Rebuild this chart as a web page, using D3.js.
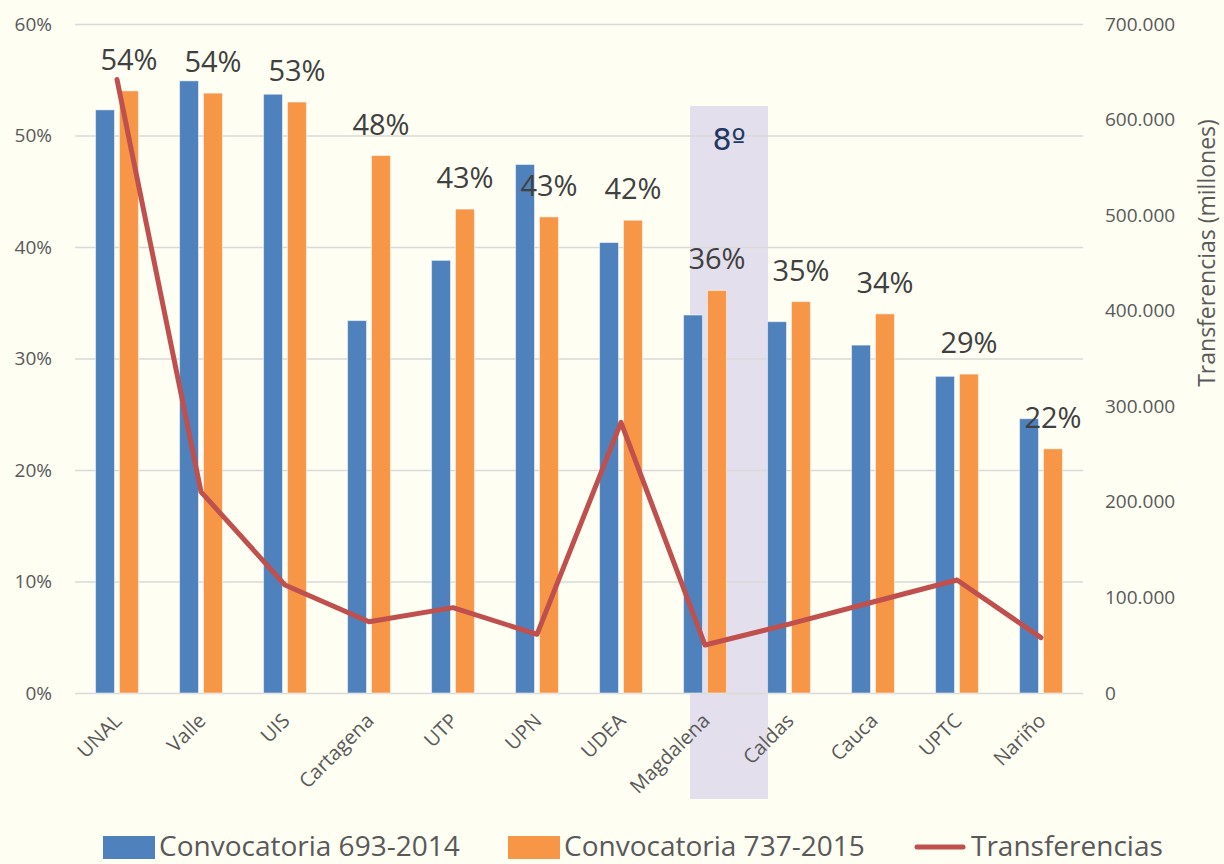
<!DOCTYPE html>
<html>
<head>
<meta charset="utf-8">
<script src="https://cdn.jsdelivr.net/npm/d3@7"></script>
<style>
  html, body { margin: 0; padding: 0; background: #fefef3; }
  svg { display: block; font-family: "Open Sans", sans-serif; }
</style>
</head>
<body>
<div id="chart"></div>
<script>
// universidades
const categories = ['UNAL', 'Valle', 'UIS', 'Cartagena', 'UTP', 'UPN', 'UDEA', 'Magdalena', 'Caldas', 'Cauca', 'UPTC', 'Nariño'];
// porcentajes por convocatoria
const conv2014 = [52.3, 54.9, 53.7, 33.4, 38.8, 47.4, 40.4, 33.9, 33.3, 31.2, 28.4, 24.6];
const conv2015 = [54.0, 53.8, 53.0, 48.2, 43.4, 42.7, 42.4, 36.1, 35.1, 34.0, 28.6, 21.9];
// transferencias (millones)
const transfer = [642000, 210500, 113000, 74600, 89300, 61400, 283200, 50200, 72000, 95200, 118200, 57900];

const leftTicks = [0, 10, 20, 30, 40, 50, 60];
const rightTicks = [0, 100000, 200000, 300000, 400000, 500000, 600000, 700000];
const highlight = { category: 'Magdalena', label: '8º' };

const series = [
    { name: 'Convocatoria 693-2014', values: conv2014, color: '#4f81bd' },
    { name: 'Convocatoria 737-2015', values: conv2015, color: '#f79646' }
];

const W = 1224, H = 864;
const plot = { left: 75, right: 1083, top: 24, bottom: 693 };
const textColor = '#595959';

const svg = d3.select('#chart').append('svg')
    .attr('width', W).attr('height', H);

svg.append('rect').attr('width', W).attr('height', H).attr('fill', '#fefef3');

const x0 = d3.scaleBand().domain(categories)
    .range([plot.left, plot.right])
    .paddingInner(0.49).paddingOuter(0.245);
const x1 = d3.scaleBand().domain([0, 1])
    .range([0, x0.bandwidth()]).paddingInner(0.21);
const yL = d3.scaleLinear().domain([0, 60]).range([plot.bottom, plot.top]);
const yR = d3.scaleLinear().domain([0, 700000]).range([plot.bottom, plot.top]);
const cx = c => x0(c) + x0.bandwidth() / 2;

// recuadro de resaltado (detrás de todo)
const hx = cx(highlight.category) + 24;
svg.append('rect')
    .attr('x', hx - 39).attr('y', 106)
    .attr('width', 78).attr('height', 799 - 106)
    .attr('fill', '#e3dfec');

// grilla
const grid = svg.append('g')
    .attr('transform', `translate(${plot.left},0)`)
    .call(d3.axisLeft(yL).tickValues(leftTicks).tickSize(-(plot.right - plot.left)).tickFormat(''));
grid.select('.domain').remove();
grid.selectAll('line').attr('stroke', '#d9d9d9').attr('stroke-width', 1.4);

// eje izquierdo
const axL = svg.append('g')
    .attr('transform', `translate(${plot.left},0)`)
    .call(d3.axisLeft(yL).tickValues(leftTicks).tickSize(0).tickPadding(23).tickFormat(d => d + '%'));
axL.select('.domain').remove();
axL.selectAll('text').attr('font-size', 19).attr('fill', textColor).attr('font-family', '"Open Sans", sans-serif');

// eje derecho
const es = d3.formatLocale({ decimal: ',', thousands: '.', grouping: [3], currency: ['$', ''] });
const axR = svg.append('g')
    .attr('transform', `translate(${plot.right},0)`)
    .call(d3.axisRight(yR).tickValues(rightTicks).tickSize(0).tickPadding(22).tickFormat(es.format(',')));
axR.select('.domain').remove();
axR.selectAll('text').attr('font-size', 19).attr('fill', textColor).attr('font-family', '"Open Sans", sans-serif');

svg.append('text')
    .attr('transform', `translate(1215,253) rotate(-90)`)
    .attr('text-anchor', 'middle')
    .attr('font-size', 23).attr('fill', textColor)
    .text('Transferencias (millones)');

// etiquetas de categoría
svg.append('g').selectAll('text')
    .data(categories).join('text')
    .attr('transform', d => `translate(${cx(d) + 6},${plot.bottom + 29}) rotate(-45)`)
    .attr('text-anchor', 'end')
    .attr('font-size', 20).attr('fill', textColor)
    .text(d => d);

// barras
series.forEach((s, si) => {
    svg.append('g').selectAll('rect')
        .data(categories).join('rect')
        .attr('x', d => x0(d) + x1(si))
        .attr('y', (d, i) => yL(s.values[i]))
        .attr('width', x1.bandwidth())
        .attr('height', (d, i) => plot.bottom - yL(s.values[i]))
        .attr('fill', s.color)
        .attr('stroke', '#ffffff').attr('stroke-opacity', 0.5).attr('stroke-width', 1);
});

// etiquetas de datos (convocatoria 2015)
svg.append('g').selectAll('text')
    .data(categories).join('text')
    .attr('x', d => x0(d) + x1(1) + x1.bandwidth() / 2)
    .attr('y', (d, i) => yL(conv2015[i]) - 21)
    .attr('text-anchor', 'middle')
    .attr('font-size', 29).attr('fill', '#404040')
    .text((d, i) => Math.round(conv2015[i]) + '%');

// línea de transferencias
const line = d3.line()
    .x((d, i) => cx(categories[i]))
    .y(d => yR(d));
svg.append('path')
    .datum(transfer)
    .attr('d', line)
    .attr('fill', 'none')
    .attr('stroke', '#c0504d')
    .attr('stroke-width', 5)
    .attr('stroke-linejoin', 'round')
    .attr('stroke-linecap', 'round');

// texto del resaltado
svg.append('text')
    .attr('x', hx).attr('y', 150)
    .attr('text-anchor', 'middle')
    .attr('font-family', '"DejaVu Sans", sans-serif')
    .attr('font-size', 30).attr('fill', '#1f3864')
    .text(highlight.label);

// leyenda
const legend = svg.append('g').attr('font-size', 28).attr('fill', textColor);
const legendItems = [
    { name: series[0].name, color: series[0].color, type: 'rect', x: 103 },
    { name: series[1].name, color: series[1].color, type: 'rect', x: 508 },
    { name: 'Transferencias', color: '#c0504d', type: 'line', x: 915 }
];
legendItems.forEach(it => {
    if (it.type === 'rect') {
        legend.append('rect').attr('x', it.x).attr('y', 836)
            .attr('width', 52).attr('height', 23).attr('fill', it.color);
    } else {
        legend.append('line').attr('x1', it.x + 2).attr('x2', it.x + 48)
            .attr('y1', 847).attr('y2', 847)
            .attr('stroke', it.color).attr('stroke-width', 5).attr('stroke-linecap', 'round');
    }
    legend.append('text').attr('x', it.x + 56).attr('y', 856).text(it.name);
});
</script>
</body>
</html>
